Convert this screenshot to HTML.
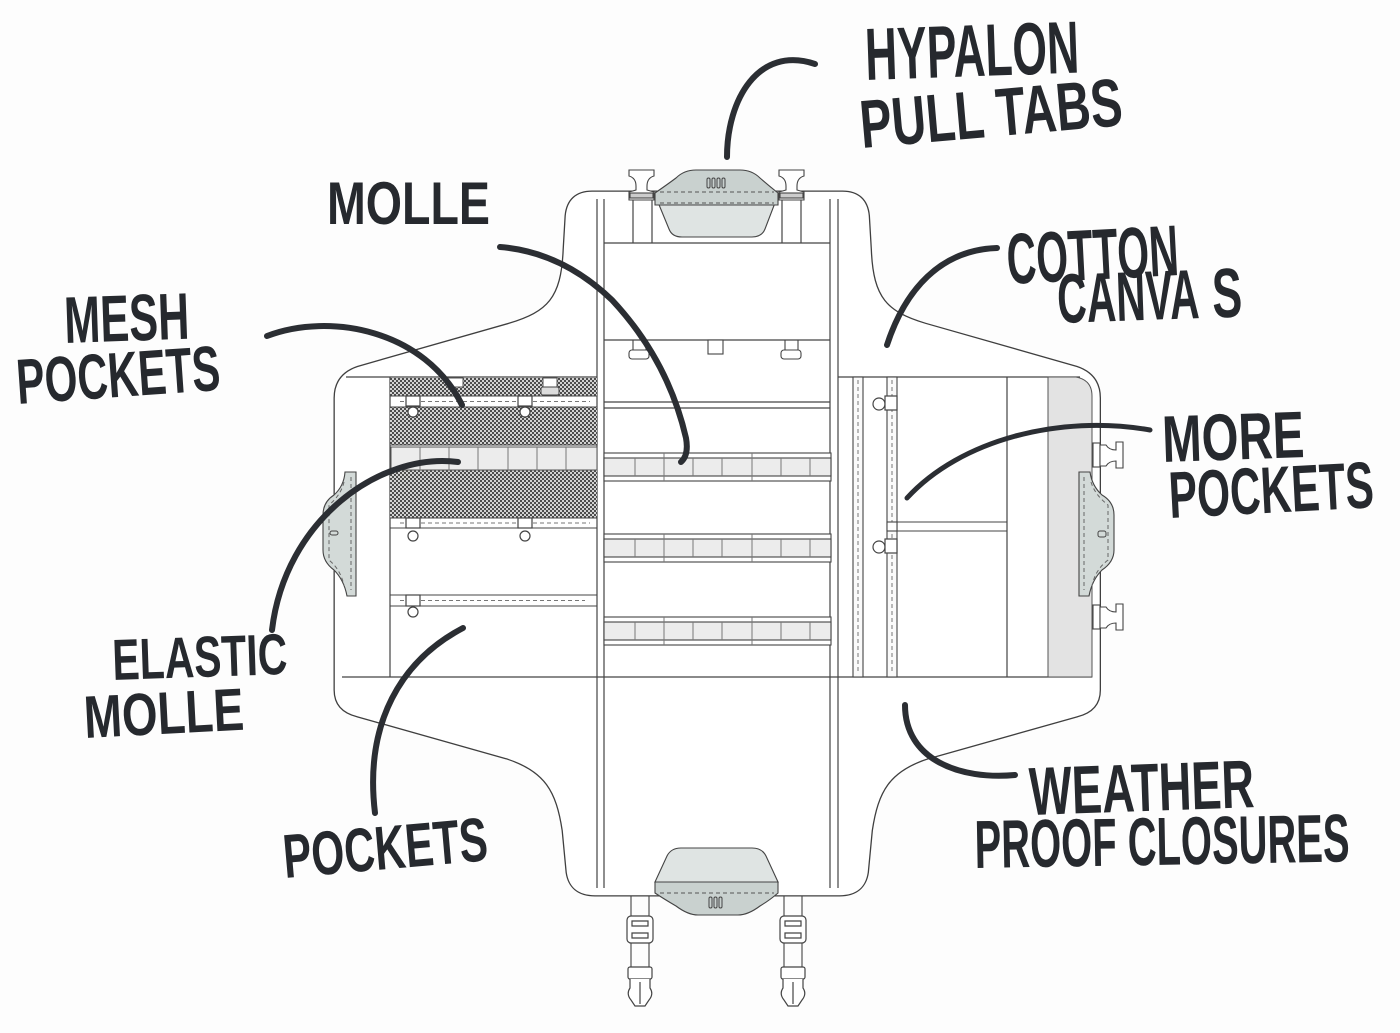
<!DOCTYPE html>
<html><head><meta charset="utf-8"><style>
html,body{margin:0;padding:0;background:#fff;}
svg{display:block}
text{font-family:"Liberation Sans",sans-serif;font-weight:bold;fill:#26292e;}
</style></head><body>
<svg width="1400" height="1033" viewBox="0 0 1400 1033" xmlns="http://www.w3.org/2000/svg">
<defs>
<pattern id="mesh" width="4" height="4" patternUnits="userSpaceOnUse">
<rect width="4" height="4" fill="#d2d2d2"/>
<rect width="2" height="2" fill="#4c4c4c"/>
<rect x="2" y="2" width="2" height="2" fill="#4c4c4c"/>
</pattern>
</defs>
<rect width="1400" height="1033" fill="#fdfdfd"/>

<!-- outline double line -->
<path d="M 592,195 L 842.5,195 Q 863.5,195 865.5,216 L 867.5,250 C 869.5,300 884.5,315 924.5,327 L 1075.5,370 Q 1096.5,377 1096.5,398 L 1096.5,690 Q 1096.5,708 1076.5,713 L 927.5,755 C 886.5,768 874.5,790 868.5,830 L 864.5,872 Q 861.5,892 839.5,892 L 595,892 Q 573,892 570,872 L 566,830 C 560,790 548,768 507,755 L 358,713 Q 338,708 338,690 L 338,398 Q 338,377 359,370 L 510,327 C 550,315 565,300 567,250 L 569,216 Q 571,195 592,195 Z" fill="#fff" stroke="#3f3f3f" stroke-width="9"/>
<path d="M 592,195 L 842.5,195 Q 863.5,195 865.5,216 L 867.5,250 C 869.5,300 884.5,315 924.5,327 L 1075.5,370 Q 1096.5,377 1096.5,398 L 1096.5,690 Q 1096.5,708 1076.5,713 L 927.5,755 C 886.5,768 874.5,790 868.5,830 L 864.5,872 Q 861.5,892 839.5,892 L 595,892 Q 573,892 570,872 L 566,830 C 560,790 548,768 507,755 L 358,713 Q 338,708 338,690 L 338,398 Q 338,377 359,370 L 510,327 C 550,315 565,300 567,250 L 569,216 Q 571,195 592,195 Z" fill="#fff" stroke="#fff" stroke-width="6.4"/>

<g stroke="#444" stroke-width="1.2" fill="none">
<!-- center panel verticals -->
<line x1="597" y1="199" x2="597" y2="888"/>
<line x1="604" y1="199" x2="604" y2="888"/>
<line x1="830" y1="199" x2="830" y2="888"/>
<line x1="838" y1="199" x2="838" y2="888"/>
<!-- center horizontals -->
<line x1="604" y1="243" x2="830" y2="243"/>
<line x1="604" y1="340" x2="830" y2="340"/>
<line x1="604" y1="402" x2="830" y2="402"/>
<line x1="604" y1="408" x2="830" y2="408"/>
<!-- panel lines -->
<line x1="346" y1="377" x2="597" y2="377"/>
<line x1="838" y1="377" x2="1080" y2="377"/>
<line x1="342" y1="677" x2="1092" y2="677"/>
<line x1="390" y1="377" x2="390" y2="677"/>
<line x1="1007" y1="377" x2="1007" y2="677"/>
<!-- top straps -->
<line x1="633" y1="198" x2="633" y2="243"/>
<line x1="652" y1="198" x2="652" y2="243"/>
<line x1="782" y1="198" x2="782" y2="243"/>
<line x1="801" y1="198" x2="801" y2="243"/>
</g>

<!-- right grey panel -->
<path d="M1048,377 L1076,377 Q1092,380 1092,396 L1092,677 L1048,677 Z" fill="#e3e3e3" stroke="#555" stroke-width="1"/>

<!-- right vertical zipper strips -->
<g stroke="#444" stroke-width="1.1" fill="#fafafa">
<rect x="853" y="377" width="10" height="300"/>
<rect x="887" y="377" width="10" height="300"/>
</g>
<g stroke="#777" stroke-width="1" stroke-dasharray="4 3">
<line x1="858" y1="380" x2="858" y2="674"/>
<line x1="892" y1="380" x2="892" y2="674"/>
</g>
<g stroke="#444" stroke-width="1.1" fill="none">
<line x1="897" y1="522" x2="1007" y2="522"/>
<line x1="897" y1="531" x2="1007" y2="531"/>
<rect x="887" y="522" width="10" height="9" fill="#fff"/>
</g>
<!-- right zipper pulls -->
<g stroke="#444" stroke-width="1.2" fill="#fff">
<circle cx="879" cy="404" r="6"/><rect x="885" y="396" width="12" height="14"/>
<circle cx="879" cy="547" r="6"/><rect x="885" y="539" width="12" height="14"/>
</g>

<!-- left mesh panel -->
<rect x="390" y="378" width="207" height="18" fill="url(#mesh)"/>
<rect x="390" y="407" width="207" height="38" fill="url(#mesh)"/>
<rect x="390" y="470" width="207" height="48" fill="url(#mesh)"/>
<g stroke="#444" stroke-width="1.1" fill="none">
<line x1="390" y1="396" x2="597" y2="396"/>
<line x1="390" y1="407" x2="597" y2="407"/>
<line x1="390" y1="445" x2="597" y2="445"/>
<line x1="390" y1="470" x2="597" y2="470"/>
<line x1="390" y1="518" x2="597" y2="518"/>
<line x1="390" y1="528" x2="597" y2="528"/>
<line x1="390" y1="595" x2="597" y2="595"/>
<line x1="390" y1="606" x2="597" y2="606"/>
</g>
<rect x="391" y="447" width="206" height="23" fill="#ececec" stroke="#555" stroke-width="1"/>
<g stroke="#777" stroke-width="1">
<line x1="420" y1="447" x2="420" y2="470"/><line x1="449" y1="447" x2="449" y2="470"/>
<line x1="478" y1="447" x2="478" y2="470"/><line x1="508" y1="447" x2="508" y2="470"/>
<line x1="537" y1="447" x2="537" y2="470"/><line x1="566" y1="447" x2="566" y2="470"/>
</g>
<g stroke="#777" stroke-width="1" stroke-dasharray="4 3">
<line x1="400" y1="401.5" x2="590" y2="401.5"/>
<line x1="400" y1="523" x2="590" y2="523"/>
<line x1="400" y1="600.5" x2="585" y2="600.5"/>
</g>
<!-- mesh top tabs -->
<rect x="447" y="378" width="16" height="9" fill="#fff" stroke="#555" stroke-width="1"/>
<rect x="543" y="378" width="14" height="9" fill="#fff" stroke="#555" stroke-width="1"/>
<rect x="541" y="387" width="18" height="8" rx="2" fill="#ddd" stroke="#444" stroke-width="1"/>
<!-- left zipper pulls -->
<g stroke="#444" stroke-width="1.2" fill="#fff">
<rect x="406" y="396" width="14" height="10"/><circle cx="413" cy="412" r="5"/>
<rect x="518" y="396" width="14" height="10"/><circle cx="525" cy="412" r="5"/>
<rect x="406" y="518" width="14" height="10"/><circle cx="413" cy="536" r="5"/>
<rect x="518" y="518" width="14" height="10"/><circle cx="525" cy="536" r="5"/>
<rect x="406" y="595" width="14" height="11"/><circle cx="413" cy="612" r="5"/>
</g>

<!-- center molle strips -->
<g stroke="#444" stroke-width="1.1">
<rect x="604" y="453" width="227" height="28" fill="#fff"/>
<rect x="604" y="458" width="227" height="18" fill="#ececec"/>
<rect x="604" y="534" width="227" height="28" fill="#fff"/>
<rect x="604" y="539" width="227" height="18" fill="#ececec"/>
<rect x="604" y="617" width="227" height="28" fill="#fff"/>
<rect x="604" y="622" width="227" height="18" fill="#ececec"/>
</g>
<g stroke="#777" stroke-width="1">
<path d="M635,458V476M664,453V481M693,458V476M722,458V476M752,453V481M781,458V476M810,458V476"/>
<path d="M635,539V557M664,534V562M693,539V557M722,539V557M752,534V562M781,539V557M810,539V557"/>
<path d="M635,622V640M664,617V645M693,622V640M722,622V640M752,617V645M781,622V640M810,622V640"/>
</g>

<!-- small tabs under y=340 -->
<g stroke="#444" stroke-width="1.1" fill="#fff">
<line x1="633" y1="340" x2="633" y2="351"/><line x1="646" y1="340" x2="646" y2="351"/>
<rect x="629" y="350" width="20" height="9" rx="3"/>
<line x1="785" y1="340" x2="785" y2="351"/><line x1="798" y1="340" x2="798" y2="351"/>
<rect x="781" y="350" width="20" height="9" rx="3"/>
<rect x="708" y="340" width="15" height="14"/>
</g>

<!-- top pull tab -->
<path d="M655,195 L778,195 L765,229 Q762,237 752,237 L682,237 Q672,237 669,229 Z" fill="#dfe4e3" stroke="#444" stroke-width="1.1"/>
<path d="M655,205 L655,193 Q668,184 676,178 Q684,170 696,170 L740,170 Q752,170 760,178 Q768,185 778,193 L778,205 Z" fill="#c9d1cf" stroke="#444" stroke-width="1.1"/>
<line x1="660" y1="192" x2="774" y2="192" stroke="#555" stroke-width="1" stroke-dasharray="4 3"/>
<line x1="660" y1="203" x2="774" y2="203" stroke="#555" stroke-width="1" stroke-dasharray="4 3"/>
<g stroke="#444" stroke-width="1" fill="none">
<rect x="707" y="178" width="3" height="10" rx="1.5"/><rect x="712" y="178" width="3" height="10" rx="1.5"/>
<rect x="717" y="178" width="3" height="10" rx="1.5"/><rect x="722" y="178" width="3" height="10" rx="1.5"/>
</g>
<!-- top buckles -->
<g stroke="#444" stroke-width="1.1" fill="#fff">
<path d="M629,170 L654,170 L654,176 Q647,178 647,186 L647,190 L654,192 L654,200 L629,200 L629,192 L636,190 L636,186 Q636,178 629,176 Z"/>
<path d="M779,170 L804,170 L804,176 Q797,178 797,186 L797,190 L804,192 L804,200 L779,200 L779,192 L786,190 L786,186 Q786,178 779,176 Z"/>
<rect x="630" y="193" width="23" height="5" fill="#ccc"/>
<rect x="780" y="193" width="23" height="5" fill="#ccc"/>
</g>

<!-- bottom pull tab -->
<path d="M655,882 L667,856 Q671,848 681,848 L752,848 Q762,848 766,856 L778,882 Z" fill="#dfe4e3" stroke="#444" stroke-width="1.1"/>
<path d="M655,882 L778,882 L778,893 Q770,900 760,906 Q748,915 738,915 L698,915 Q688,915 676,906 Q664,899 655,893 Z" fill="#c9d1cf" stroke="#444" stroke-width="1.1"/>
<line x1="660" y1="893" x2="774" y2="893" stroke="#555" stroke-width="1" stroke-dasharray="4 3"/>
<g stroke="#444" stroke-width="1" fill="none">
<rect x="709" y="897" width="3" height="11" rx="1.5"/><rect x="714" y="897" width="3" height="11" rx="1.5"/>
<rect x="719" y="897" width="3" height="11" rx="1.5"/>
</g>
<!-- bottom straps & buckles -->
<g stroke="#444" stroke-width="1.1" fill="none">
<line x1="631" y1="896" x2="631" y2="970"/><line x1="649" y1="896" x2="649" y2="970"/>
<line x1="784" y1="896" x2="784" y2="970"/><line x1="802" y1="896" x2="802" y2="970"/>
</g>
<g stroke="#444" stroke-width="1.2" fill="#fff">
<rect x="627" y="916" width="26" height="27" rx="4"/>
<path d="M632,921 h16 v5 h-16 z M632,933 h16 v5 h-16 z"/>
<rect x="780" y="916" width="26" height="27" rx="4"/>
<path d="M785,921 h16 v5 h-16 z M785,933 h16 v5 h-16 z"/>
<rect x="628" y="967" width="24" height="12" rx="2"/>
<path d="M630,979 L630,988 Q626,994 631,1000 L635,1006 L645,1006 L649,1000 Q654,994 650,988 L650,979"/>
<line x1="640" y1="982" x2="640" y2="1004"/>
<rect x="781" y="967" width="24" height="12" rx="2"/>
<path d="M783,979 L783,988 Q779,994 784,1000 L788,1006 L798,1006 L802,1000 Q807,994 803,988 L803,979"/>
<line x1="793" y1="982" x2="793" y2="1004"/>
</g>

<!-- left side tab -->
<path d="M356,472 L356,596 L347,596 Q344,580 334,570 Q323,562 323,550 L323,515 Q323,502 334,495 Q344,486 345,472 Z" fill="#d3dad8" stroke="#444" stroke-width="1.1"/>
<path d="M351,477 L351,590 M344,482 Q341,495 329,505 L329,560 Q341,570 344,586" fill="none" stroke="#666" stroke-width="1" stroke-dasharray="4 3"/>
<rect x="330" y="531" width="8" height="4" rx="2" fill="none" stroke="#444" stroke-width="1"/>

<!-- right side tab -->
<path d="M1079,472 L1079,596 L1089,596 Q1092,580 1102,570 Q1114,562 1114,550 L1114,515 Q1114,502 1102,495 Q1092,486 1090,472 Z" fill="#d3dad8" stroke="#444" stroke-width="1.1"/>
<path d="M1084,477 L1084,590 M1091,482 Q1095,495 1108,505 L1108,560 Q1095,570 1092,586" fill="none" stroke="#666" stroke-width="1" stroke-dasharray="4 3"/>
<rect x="1098" y="531" width="8" height="6" rx="2" fill="none" stroke="#444" stroke-width="1"/>
<!-- right side buckles -->
<g stroke="#444" stroke-width="1.1" fill="#fff">
<rect x="1093" y="443" width="7" height="24"/>
<path d="M1100,445 L1106,445 Q1109,450 1116,450 L1116,442 L1123,442 L1123,468 L1116,468 L1116,461 Q1109,461 1106,466 L1100,466 Z"/>
<rect x="1093" y="605" width="7" height="24"/>
<path d="M1100,607 L1106,607 Q1109,612 1116,612 L1116,604 L1123,604 L1123,630 L1116,630 L1116,623 Q1109,623 1106,628 L1100,628 Z"/>
</g>

<!-- marker leader lines -->
<g stroke="#2b2e33" stroke-width="6" fill="none" stroke-linecap="round">
<path d="M727,157 C727,100 758,45 815,64"/>
<path d="M500,247 Q562,252 612,300 Q668,360 686,438 Q689,455 681,462"/>
<path d="M887,345 C905,290 940,250 997,248"/>
<path d="M267,336 C330,312 425,330 462,405"/>
<path d="M458,462 C380,452 285,520 272,630"/>
<path d="M463,628 C402,660 364,722 375,813"/>
<path d="M1150,430 C1060,414 960,440 907,498" stroke-width="5"/>
<path d="M905,705 C905,760 960,780 1015,775"/>
</g>

<!-- labels -->
<text x="866" y="80" font-size="74" textLength="214" lengthAdjust="spacingAndGlyphs" transform="rotate(-2 866 80)">HYPALON</text>
<text x="862" y="148" font-size="68" textLength="263" lengthAdjust="spacingAndGlyphs" transform="rotate(-5 862 148)">PULL TABS</text>
<text x="327" y="224" font-size="60" textLength="163" lengthAdjust="spacingAndGlyphs">MOLLE</text>
<text x="1008" y="284" font-size="72" textLength="172" lengthAdjust="spacingAndGlyphs" transform="rotate(-3 1008 284)">COTTON</text>
<text y="323" font-size="70" transform="rotate(-2 1058 323)"><tspan x="1058" textLength="142" lengthAdjust="spacingAndGlyphs">CANVA</tspan><tspan x="1213" textLength="30" lengthAdjust="spacingAndGlyphs">S</tspan></text>
<text x="65" y="343" font-size="66" textLength="125" lengthAdjust="spacingAndGlyphs" transform="rotate(-2 65 343)">MESH</text>
<text x="18" y="404" font-size="64" textLength="204" lengthAdjust="spacingAndGlyphs" transform="rotate(-4 18 404)">POCKETS</text>
<text x="1163" y="462" font-size="66" textLength="142" lengthAdjust="spacingAndGlyphs" transform="rotate(-2 1163 462)">MORE</text>
<text x="1170" y="518" font-size="66" textLength="205" lengthAdjust="spacingAndGlyphs" transform="rotate(-3 1170 518)">POCKETS</text>
<text x="113" y="680" font-size="58" textLength="175" lengthAdjust="spacingAndGlyphs" transform="rotate(-2 113 680)">ELASTIC</text>
<text x="85" y="738" font-size="60" textLength="160" lengthAdjust="spacingAndGlyphs" transform="rotate(-3 85 738)">MOLLE</text>
<text x="285" y="878" font-size="62" textLength="205" lengthAdjust="spacingAndGlyphs" transform="rotate(-5 285 878)">POCKETS</text>
<text x="1030" y="815" font-size="68" textLength="225" lengthAdjust="spacingAndGlyphs" transform="rotate(-2 1030 815)">WEATHER</text>
<text x="975" y="868" font-size="68" textLength="375" lengthAdjust="spacingAndGlyphs" transform="rotate(-1 975 868)">PROOF CLOSURES</text>
</svg>
</body></html>
